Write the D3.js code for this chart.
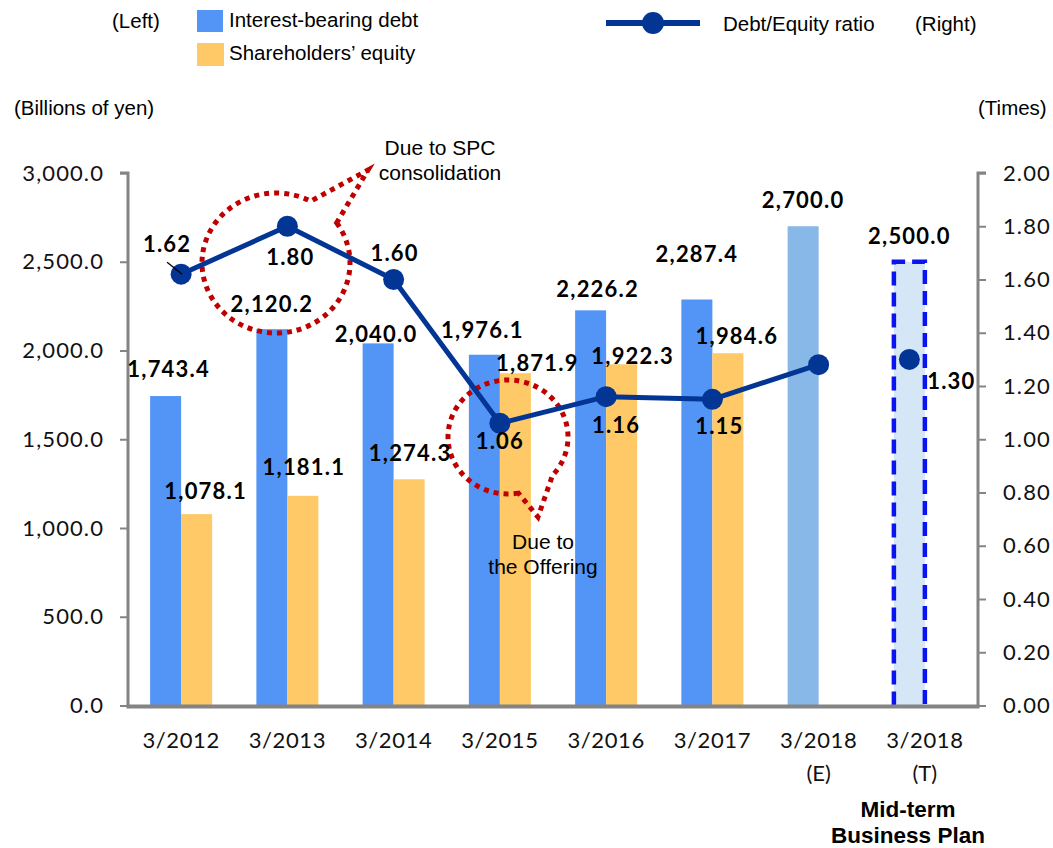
<!DOCTYPE html>
<html><head><meta charset="utf-8">
<script src="https://cdn.jsdelivr.net/npm/d3@7"></script>
<style>body{margin:0;background:#fff}svg{display:block}</style>
</head><body><svg id="c" width="1053" height="848"></svg>
<script>
// ---- data ----
const categories = ["3/2012","3/2013","3/2014","3/2015","3/2016","3/2017","3/2018E","3/2018T"];
const catLine1 = ["3/2012","3/2013","3/2014","3/2015","3/2016","3/2017","3/2018","3/2018"];
const catLine2 = ["","","","","","","(E)","(T)"];
const debt = [1743.4, 2120.2, 2040.0, 1976.1, 2226.2, 2287.4, 2700.0, 2500.0];
const equity = [1078.1, 1181.1, 1274.3, 1871.9, 1922.3, 1984.6, null, null];
const ratio = [1.62, 1.80, 1.60, 1.06, 1.16, 1.15, 1.28, 1.30];
const ratioLabels = ["1.62","1.80","1.60","1.06","1.16","1.15","","1.30"];
const leftTicks = [0, 500, 1000, 1500, 2000, 2500, 3000];
const rightTicks = [0, 0.2, 0.4, 0.6, 0.8, 1.0, 1.2, 1.4, 1.6, 1.8, 2.0];

// ---- label layout offsets (px) ----
const debtOff = [[3,-28],[0,-26],[-2,-10],[-2,-25],[7,-22],[0,-46],[0,-27],[0,-26]];
const eqOff = [[9,-24],[1,-29],[1,-27],[22,-11],[11,-9],[9,-18]];
const ratioOff = [[-14,-31],[3,30],[1,-27],[0,17],[10,28],[7,26],[0,0],[42,21]];

const svg = d3.select("#c");
const L = 128, R = 978, T = 173, B = 705.5;
const x = d3.scaleBand().domain(categories).range([L, R]).padding(0);
const y = d3.scaleLinear().domain([0, 3000]).range([B, T]);
const y2 = d3.scaleLinear().domain([0, 2]).range([B, T]);
const bw = 31;
const cx = i => x(categories[i]) + x.bandwidth()/2;

const numFont = "Lato, 'Open Sans', sans-serif";
const arial = "'Liberation Sans', Arial, sans-serif";
const fmt1 = d3.format(",.1f");

// bars
const g = svg.append("g");
debt.forEach((v,i) => {
  const isE = i === 6, isT = i === 7;
  if (isT) {
    g.append("rect").attr("x", cx(i)-bw).attr("width", bw)
      .attr("y", y(v)).attr("height", B - y(v)).attr("fill", "#D5E6F6");
    const x0 = cx(i)-bw, x1 = cx(i), yt = y(v);
    g.append("path").attr("d", `M${x0},${B}V${yt}H${x1}V${B}`).attr("fill","none")
      .attr("stroke", "#0A14F0").attr("stroke-width", 4.5).attr("stroke-dasharray", "14,7");
  } else {
    g.append("rect").attr("x", cx(i)-bw).attr("width", bw)
      .attr("y", y(v)).attr("height", B - y(v)).attr("fill", isE ? "#88B8E8" : "#5295F7");
  }
});
equity.forEach((v,i) => {
  if (v == null) return;
  g.append("rect").attr("x", cx(i)).attr("width", bw)
    .attr("y", y(v)).attr("height", B - y(v)).attr("fill", "#FEC966");
});

// axes
const axisCol = "#848484";
const la = svg.append("g").attr("transform", `translate(${L},0)`)
  .call(d3.axisLeft(y).tickValues(leftTicks).tickFormat(d3.format(",.1f")).tickSize(8).tickPadding(16));
const ra = svg.append("g").attr("transform", `translate(${R},0)`)
  .call(d3.axisRight(y2).tickValues(rightTicks).tickFormat(d3.format(".2f")).tickSize(8).tickPadding(17));
[la, ra].forEach(a => {
  a.select(".domain").attr("stroke", axisCol).attr("stroke-width", 3);
  a.selectAll(".tick line").attr("stroke", axisCol).attr("stroke-width", 2);
  a.selectAll("text").attr("font-family", numFont).attr("font-size", 22)
    .attr("letter-spacing", "1.1px").attr("fill", "#111");
});
la.select(".domain").attr("d", `M-8,${T}H0V${B+1.5}`);
ra.select(".domain").attr("d", `M8,${T}H0V${B+1.5}`);
svg.append("line").attr("x1", L-1.5).attr("x2", R+1.5).attr("y1", B+1).attr("y2", B+1)
  .attr("stroke", axisCol).attr("stroke-width", 4);

// category labels
catLine1.forEach((t,i) => {
  svg.append("text").attr("x", cx(i)).attr("y", 748).attr("text-anchor","middle")
    .attr("font-family", numFont).attr("font-size", 22).attr("letter-spacing","0.6px").attr("fill","#111").text(t);
  if (catLine2[i]) svg.append("text").attr("x", cx(i)).attr("y", 781).attr("text-anchor","middle")
    .attr("font-family", numFont).attr("font-size", 22).attr("fill","#111").text(catLine2[i]);
});
svg.append("text").attr("x", 908).attr("y", 817).attr("text-anchor","middle")
  .attr("font-family", arial).attr("font-weight","bold").attr("font-size", 22.5).text("Mid-term");
svg.append("text").attr("x", 908).attr("y", 843).attr("text-anchor","middle")
  .attr("font-family", arial).attr("font-weight","bold").attr("font-size", 22.5).text("Business Plan");

// annotations (dotted callouts)
const red = "#C00000";
const ann = svg.append("g").attr("fill","none").attr("stroke", red).attr("stroke-width", 5)
  .attr("stroke-dasharray", "5,5");
function callout(cx0, cy0, rx, ry, a1, a2, tip) {
  const p = a => [cx0 + rx*Math.cos(a), cy0 + ry*Math.sin(a)];
  const s = p(a1), e = p(a2);
  const path = `M${e[0]},${e[1]} A${rx},${ry} 0 1 1 ${s[0]},${s[1]} L${tip[0]},${tip[1]} Z`;
  ann.append("path").attr("d", path);
}
const rad = d => d*Math.PI/180;
callout(276, 263, 74, 70, rad(-62), rad(-35), [368, 170]);
callout(508, 437, 60, 57, rad(42), rad(80), [538, 517]);

// ratio line
const line = d3.line().x((d,i) => cx(i)).y(d => y2(d));
svg.append("path").datum(ratio.slice(0,7)).attr("d", line).attr("fill","none")
  .attr("stroke","#023594").attr("stroke-width", 5).attr("stroke-linejoin","round");
ratio.forEach((v,i) => {
  const px = i === 7 ? cx(i) - bw/2 : cx(i);
  svg.append("circle").attr("cx", px).attr("cy", y2(v)).attr("r", 10.5).attr("fill","#023594");
});
svg.append("line").attr("x1", cx(0)-14).attr("y1", y2(ratio[0])-12).attr("x2", cx(0)+1).attr("y2", y2(ratio[0]))
  .attr("stroke","#000").attr("stroke-width",1.3);

// value labels
const lab = (xx, yy, t) => svg.append("text").attr("x", xx).attr("y", yy)
  .attr("text-anchor","middle").attr("dominant-baseline","central")
  .attr("font-family", numFont).attr("font-weight","bold").attr("font-size", 22)
  .attr("letter-spacing","1.2px").attr("fill","#000").text(t);
debt.forEach((v,i) => lab(cx(i)-bw/2 + debtOff[i][0], y(v) + debtOff[i][1], fmt1(v)));
equity.forEach((v,i) => { if (v != null) lab(cx(i)+bw/2 + eqOff[i][0], y(v) + eqOff[i][1], fmt1(v)); });
ratio.forEach((v,i) => {
  if (!ratioLabels[i]) return;
  const px = i === 7 ? cx(i) - bw/2 : cx(i);
  lab(px + ratioOff[i][0], y2(v) + ratioOff[i][1], ratioLabels[i]);
});

// annotation texts
const txt = (xx, yy, t, anchor="middle", fs=20.5) => svg.append("text").attr("x", xx).attr("y", yy)
  .attr("text-anchor", anchor).attr("font-family", arial).attr("font-size", fs).attr("fill","#000").text(t);
txt(440, 155, "Due to SPC", "middle", 21);
txt(440, 180, "consolidation", "middle", 21);
txt(543, 549, "Due to", "middle", 21);
txt(543, 574, "the Offering", "middle", 21);

// legend & axis titles
txt(112, 28, "(Left)", "start");
svg.append("rect").attr("x",197).attr("y",10).attr("width",26).attr("height",22).attr("fill","#5295F7");
svg.append("rect").attr("x",197).attr("y",43).attr("width",27).attr("height",23).attr("fill","#FEC966");
txt(229, 27, "Interest-bearing debt", "start");
txt(229, 60, "Shareholders\u2019 equity", "start");
svg.append("line").attr("x1",606).attr("x2",700).attr("y1",23).attr("y2",23).attr("stroke","#023594").attr("stroke-width",6);
svg.append("circle").attr("cx",653).attr("cy",23).attr("r",11).attr("fill","#023594");
txt(723, 31, "Debt/Equity ratio", "start");
txt(915, 31, "(Right)", "start");
txt(14, 115, "(Billions of yen)", "start");
txt(978, 115, "(Times)", "start");
</script></body></html>
